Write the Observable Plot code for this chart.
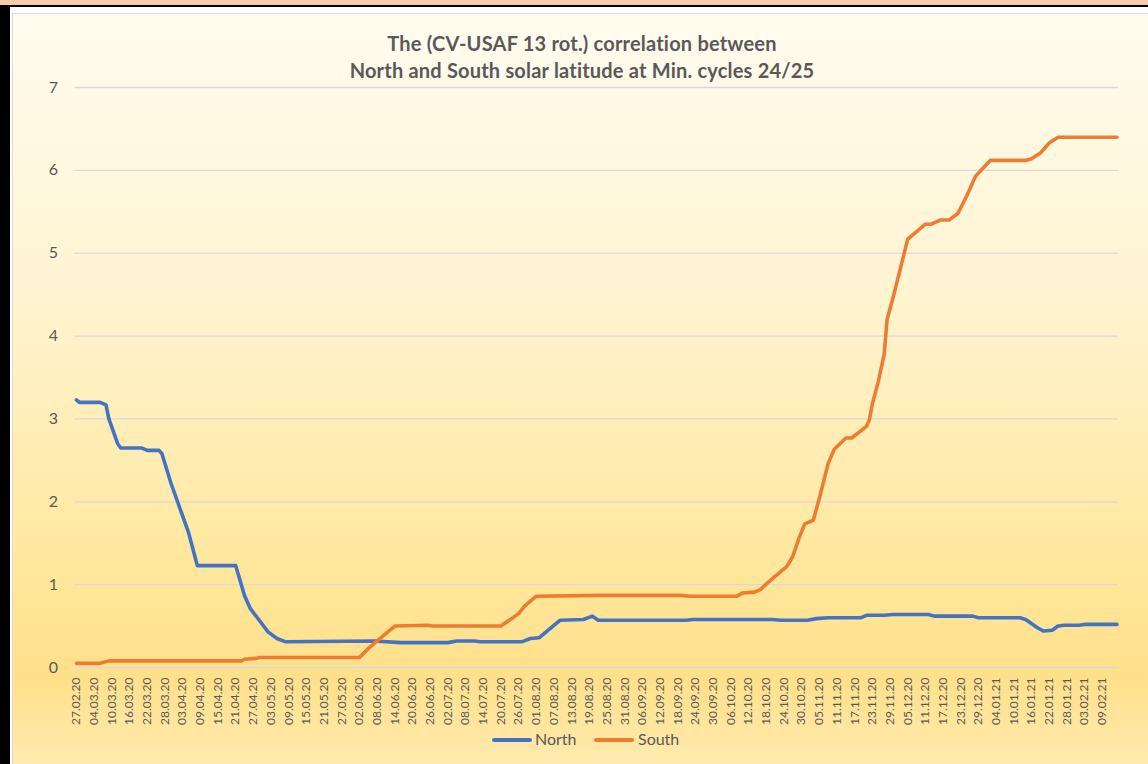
<!DOCTYPE html>
<html><head><meta charset="utf-8">
<script src="https://cdn.jsdelivr.net/npm/d3@7"></script>
<script src="https://cdn.jsdelivr.net/npm/@observablehq/plot@0.6"></script>
<style>
body{margin:0;background:#fff;}
#wrap{position:relative;width:1148px;height:764px;overflow:hidden;background:#fff;font-family:Lato,"Open Sans",sans-serif;}
.pink{position:absolute;left:0;top:0;width:1148px;height:5px;background:#f8cbad;}
.btop{position:absolute;left:0;top:5px;width:1148px;height:2px;background:#000;}
.bleft{position:absolute;left:0;top:5px;width:10px;height:759px;background:#000;}
.area{position:absolute;left:12px;top:13px;width:1160px;height:790px;border:1px solid #d9d9d9;
 background:linear-gradient(to bottom,#fffcef 0%,#fff4d2 35%,#ffe89f 68%,#ffe08a 84%,#ffefc0 100%);}
.title{position:absolute;left:0;width:1164px;top:30px;text-align:center;font-weight:bold;font-size:20px;letter-spacing:0.2px;line-height:27px;color:#595959;}
#chart svg{position:absolute;left:0;top:0;}
.legend{position:absolute;top:729px;left:0;width:1148px;height:20px;font-size:16px;color:#595959;}
.legend .sw{position:absolute;top:9px;height:4px;border-radius:2px;}
.legend .lb{position:absolute;top:0;line-height:20px;}
</style></head><body>
<div id="wrap">
 <div class="pink"></div><div class="btop"></div><div class="bleft"></div>
 <div class="area"></div>
 <div class="title">The (CV-USAF 13 rot.) correlation between<br>North and South solar latitude at Min. cycles 24/25</div>
 <div id="chart"></div>
 <div class="legend">
  <div class="sw" style="left:492px;width:40px;background:#4472c4"></div><div class="lb" style="left:535px">North</div>
  <div class="sw" style="left:594px;width:40px;background:#ed7d31"></div><div class="lb" style="left:638px">South</div>
 </div>
</div>
<script>
const seriesNames = ["North", "South"];
const seriesColors = ["#4472c4", "#ed7d31"];

const northDates = ["2020-02-27","2020-02-28","2020-03-06","2020-03-08","2020-03-09","2020-03-12","2020-03-13","2020-03-20","2020-03-22","2020-03-26","2020-03-27","2020-03-30","2020-04-05","2020-04-08","2020-04-21","2020-04-24","2020-04-26","2020-04-29","2020-05-02","2020-05-05","2020-05-08","2020-06-07","2020-06-16","2020-07-02","2020-07-05","2020-07-11","2020-07-13","2020-07-27","2020-07-30","2020-08-02","2020-08-09","2020-08-17","2020-08-20","2020-08-22","2020-09-21","2020-09-23","2020-10-20","2020-10-23","2020-11-01","2020-11-04","2020-11-08","2020-11-19","2020-11-21","2020-11-27","2020-11-30","2020-12-12","2020-12-14","2020-12-27","2020-12-29","2021-01-12","2021-01-14","2021-01-18","2021-01-20","2021-01-23","2021-01-25","2021-01-27","2021-02-01","2021-02-03","2021-02-14"];
const northValues = [3.23,3.20,3.20,3.17,3.00,2.70,2.65,2.65,2.62,2.62,2.58,2.23,1.63,1.23,1.23,0.87,0.71,0.57,0.43,0.35,0.31,0.32,0.30,0.30,0.32,0.32,0.31,0.31,0.35,0.36,0.57,0.58,0.62,0.57,0.57,0.58,0.58,0.57,0.57,0.59,0.60,0.60,0.63,0.63,0.64,0.64,0.62,0.62,0.60,0.60,0.58,0.48,0.44,0.45,0.50,0.51,0.51,0.52,0.52];

const southDates = ["2020-02-27","2020-03-06","2020-03-09","2020-04-23","2020-04-24","2020-04-28","2020-04-29","2020-06-02","2020-06-05","2020-06-07","2020-06-14","2020-06-25","2020-06-27","2020-07-20","2020-07-26","2020-07-28","2020-08-01","2020-08-23","2020-09-19","2020-09-22","2020-10-08","2020-10-10","2020-10-14","2020-10-16","2020-10-19","2020-10-25","2020-10-27","2020-10-29","2020-10-31","2020-11-03","2020-11-05","2020-11-08","2020-11-10","2020-11-14","2020-11-16","2020-11-21","2020-11-22","2020-11-23","2020-11-25","2020-11-27","2020-11-28","2020-11-30","2020-12-05","2020-12-11","2020-12-13","2020-12-16","2020-12-19","2020-12-22","2020-12-25","2020-12-28","2021-01-02","2021-01-14","2021-01-16","2021-01-19","2021-01-22","2021-01-25","2021-02-14"];
const southValues = [0.05,0.05,0.08,0.08,0.10,0.11,0.12,0.12,0.23,0.29,0.50,0.51,0.50,0.50,0.65,0.74,0.86,0.87,0.87,0.86,0.86,0.90,0.91,0.94,1.04,1.22,1.34,1.55,1.73,1.78,2.04,2.46,2.63,2.77,2.77,2.91,2.99,3.18,3.45,3.78,4.20,4.46,5.17,5.35,5.35,5.40,5.40,5.48,5.69,5.93,6.12,6.12,6.14,6.21,6.33,6.40,6.40];

const xTickLabels = ["27.02.20","04.03.20","10.03.20","16.03.20","22.03.20","28.03.20","03.04.20","09.04.20","15.04.20","21.04.20","27.04.20","03.05.20","09.05.20","15.05.20","21.05.20","27.05.20","02.06.20","08.06.20","14.06.20","20.06.20","26.06.20","02.07.20","08.07.20","14.07.20","20.07.20","26.07.20","01.08.20","07.08.20","13.08.20","19.08.20","25.08.20","31.08.20","06.09.20","12.09.20","18.09.20","24.09.20","30.09.20","06.10.20","12.10.20","18.10.20","24.10.20","30.10.20","05.11.20","11.11.20","17.11.20","23.11.20","29.11.20","05.12.20","11.12.20","17.12.20","23.12.20","29.12.20","04.01.21","10.01.21","16.01.21","22.01.21","28.01.21","03.02.21","09.02.21"];
const yTicks = [0,1,2,3,4,5,6,7];

const parseIso = d3.utcParse("%Y-%m-%d");
const parseLbl = d3.utcParse("%d.%m.%y");
const fmtLbl = d3.utcFormat("%d.%m.%y");

const rows = [];
northDates.forEach((d,i)=>rows.push({series:"North", date:parseIso(d), value:northValues[i]}));
southDates.forEach((d,i)=>rows.push({series:"South", date:parseIso(d), value:southValues[i]}));

const tickDates = xTickLabels.map(parseLbl);
const half = 12*3600*1000;
const first = parseIso(northDates[0]), last = parseIso(northDates[northDates.length-1]);

const chart = Plot.plot({
  width: 1148, height: 764,
  marginTop: 87, marginBottom: 97, marginLeft: 74.5, marginRight: 30,
  style: {background: "transparent", fontFamily: "Lato, sans-serif", color: "#595959", overflow: "visible"},
  x: {type: "utc", domain: [new Date(+first - half), new Date(+last + half)]},
  y: {domain: [0, 7]},
  color: {domain: seriesNames, range: seriesColors},
  marks: [
    Plot.gridY(yTicks, {stroke: "#d9d9d9", strokeOpacity: 1, strokeWidth: 1.3}),
    Plot.axisY(yTicks, {tickSize: 0, tickPadding: 17, fontSize: 16, label: null, fill: "#595959", tickFormat: d => String(d)}),
    Plot.axisX(tickDates, {tickSize: 0, tickPadding: 10, tickRotate: -90, fontSize: 12, label: null, fill: "#595959", tickFormat: fmtLbl}),
    Plot.line(rows, {x: "date", y: "value", z: "series", stroke: "series", strokeWidth: 3.6, strokeLinejoin: "round", strokeLinecap: "round"})
  ]
});
document.getElementById("chart").appendChild(chart);
</script>
</body></html>
